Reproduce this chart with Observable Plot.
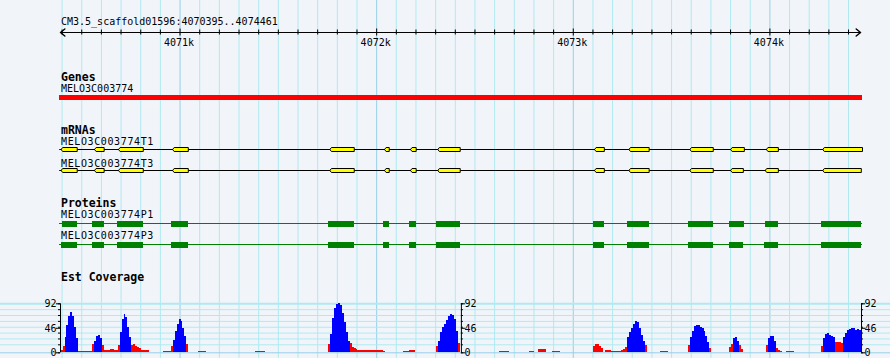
<!DOCTYPE html>
<html><head><meta charset="utf-8">
<script src="https://cdn.jsdelivr.net/npm/d3@7"></script>
<script src="https://cdn.jsdelivr.net/npm/@observablehq/plot@0.6"></script>
<style>
html,body{margin:0;padding:0;background:#f1f5fa;}
#chart svg{display:block;}
</style></head><body><div id="chart"></div>
<script>
// ---------- data ----------
const refName = "CM3.5_scaffold01596";
const regionStart = 4070395;
const regionEnd = 4074461;
const viewDomain = [4070392, 4074471];
const gridStep = 100;
const rulerLabelTicks = [4071000, 4072000, 4073000, 4074000];

const trackTitles = ["Genes", "mRNAs", "Proteins", "Est Coverage"];
const geneName = "MELO3C003774";
const geneSpan = [4070387, 4074471];

const mrnaNames = ["MELO3C003774T1", "MELO3C003774T3"];
const mrnaSpans = [[4070388, 4074471], [4070388, 4074466]];
const exonsT1 = [[4070395,4070477],[4070565,4070614],[4070687,4070813],[4070962,4071042],[4071762,4071886],[4072040,4072064],[4072172,4072201],[4072311,4072425],[4073108,4073158],[4073283,4073386],[4073593,4073712],[4073800,4073870],[4073982,4074043],[4074269,4074471]];
const exonsT3 = [[4070395,4070477],[4070565,4070614],[4070687,4070813],[4070962,4071042],[4071762,4071886],[4072040,4072064],[4072172,4072201],[4072311,4072425],[4073108,4073158],[4073283,4073386],[4073593,4073712],[4073800,4073865],[4073976,4074043],[4074269,4074465]];

const protNames = ["MELO3C003774P1", "MELO3C003774P3"];
const protSpans = [[4070387, 4074471], [4070387, 4074471]];
const cdsP1 = [[4070404,4070478],[4070555,4070616],[4070682,4070814],[4070956,4071043],[4071755,4071887],[4072035,4072065],[4072167,4072202],[4072304,4072426],[4073102,4073158],[4073275,4073387],[4073586,4073713],[4073794,4073870],[4073977,4074043],[4074262,4074465]];
const cdsP3 = [[4070395,4070478],[4070555,4070616],[4070682,4070814],[4070956,4071043],[4071755,4071887],[4072035,4072065],[4072167,4072202],[4072304,4072426],[4073102,4073158],[4073275,4073387],[4073586,4073713],[4073794,4073865],[4073972,4074043],[4074262,4074465]];

// coverage, 10 bp bins: [run start bp, values...]
const covBin = 10;
const covMax = 92;
const covGridTicks = [92, 81, 70, 59, 48, 37, 26, 15];
const covLabelTicks = [0, 46, 92];
const covAxisPositions = [4070392, 4072431, 4074466];
const covAxisSides = ["left", "right", "right"];
const redRuns = [
  [4070395, [4, 12]],
  [4070485, [3, 3, 3, 3, 3, 3, 3, 15]],
  [4070605, [14, 5, 5, 5, 7, 7, 5, 5, 14]],
  [4070755, [14, 15, 12, 10, 8, 4, 4, 4, 4]],
  [4070915, [2, 2, 2, 2, 12]],
  [4071035, [16]],
  [4071095, [2, 2, 2, 2]],
  [4071385, [2, 2, 2, 2, 2]],
  [4071755, [15]],
  [4071865, [17, 10, 8, 7, 5, 5, 5, 5, 5, 5, 4, 4, 4, 4, 4, 4, 4, 2]],
  [4072135, [2, 2, 2, 4, 4, 4]],
  [4072305, [12]],
  [4072415, [17]],
  [4072625, [2, 2, 2, 2, 2]],
  [4072775, [2, 2, 2]],
  [4072825, [6, 6, 6, 6]],
  [4072895, [2, 2, 2, 2]],
  [4073105, [12, 15, 15, 12, 8]],
  [4073165, [4, 4, 4, 2, 2, 2, 2, 2, 4, 6, 10]],
  [4073365, [14]],
  [4073445, [2, 2, 2, 2]],
  [4073585, [14]],
  [4073695, [8]],
  [4073795, [10, 15]],
  [4073845, [14, 6]],
  [4073985, [14]],
  [4074035, [8, 5, 3]],
  [4074085, [2, 2, 2, 2]],
  [4074265, [12]],
  [4074335, [19, 20, 19, 18]]
];
const blueRuns = [
  [4070415, [28, 52, 68, 76, 68, 48, 27]],
  [4070565, [22, 30, 32, 26]],
  [4070695, [38, 62, 71, 66, 48, 28]],
  [4070965, [24, 40, 54, 62, 58, 46, 30]],
  [4071765, [35, 65, 83, 90, 92, 88, 74, 56, 38, 22]],
  [4072315, [22, 38, 48, 54, 60, 68, 72, 70, 62, 40]],
  [4073275, [28, 38, 46, 53, 58, 56, 46, 32, 22]],
  [4073595, [28, 40, 50, 51, 51, 48, 45, 40, 30, 20]],
  [4073815, [26, 28, 22]],
  [4073995, [26, 31, 30, 22]],
  [4074275, [26, 34, 36, 33, 30, 28]],
  [4074375, [28, 36, 41, 44, 46, 45, 42, 43, 42]]
];

// ---------- layout & style ----------
const W = 890, H1 = 296, H2 = 62;
const Y = {
  title: 24.5, ruler: 32, tickMinor: [29.5, 34.5], tickMajor: [28.5, 35.5], arrow: [28.5, 35.5], tickLabel: 45.7,
  heads: [80, 133, 206, 280],
  geneLabel: 91.7, geneBar: [95, 100],
  mrnaLabels: [144.7, 166], mrnaLines: [149, 170], exonHalf: 2,
  protLabels: [217.3, 238.7], protLines: [223, 244], cdsBoxes: [[220.7, 226.7], [242.2, 248.2]]
};
const arrowLen = 22; // bp
const tipLen = 8;    // bp
const mono = "'DejaVu Sans Mono', 'Liberation Mono', monospace";
const C = {minor: "#aeeaf0", major: "#97cfe6", zero: "#97cfe6", red: "#ff0000", blue: "#0000ff", yellow: "#ffff00", green: "#008000"};

const gridAll = d3.range(Math.ceil(viewDomain[0] / gridStep) * gridStep, viewDomain[1], gridStep);
const gridMajor = gridAll.filter(d => d % 1000 === 0);
const gridMinor = gridAll.filter(d => d % 1000 !== 0);

function expand(runs) {
  const out = [];
  for (const [start, vals] of runs) vals.forEach((v, i) => out.push({x1: start + i * covBin, x2: start + (i + 1) * covBin, v}));
  return out;
}
function exonPolys(exons, yc, h, key) {
  return exons.flatMap(([s, e], i) => {
    const t = Math.min(tipLen, (e - s) / 2);
    return [[s, yc], [s + t, yc - h], [e, yc - h], [e, yc + h], [s + t, yc + h], [s, yc]]
      .map(([x, y]) => ({x, y, z: key + "-" + i}));
  });
}
function labelMark(text, y, bold) {
  return Plot.text([text], {frameAnchor: "left", y: () => y, text: d => d, textAnchor: "start", lineAnchor: "bottom", dx: 0.5,
    fontWeight: bold ? "bold" : "normal", fontSize: bold ? 11.5 : 10, fill: "black"});
}
const gridMarks = [
  Plot.ruleX(gridMinor, {stroke: C.minor}),
  Plot.ruleX(gridMajor, {stroke: C.major})
];

// ---------- top panel ----------
const topPanel = Plot.plot({
  width: W, height: H1,
  marginLeft: 60, marginRight: W - 862, marginTop: 0, marginBottom: 0,
  x: {domain: viewDomain, axis: null},
  y: {domain: [0, H1], range: [0, H1], axis: null},
  style: {background: "transparent", fontFamily: mono, fontSize: "10px", overflow: "visible"},
  marks: [
    ...gridMarks,
    Plot.text([`${refName}:${regionStart}..${regionEnd}`], {frameAnchor: "left", y: () => Y.title, text: d => d, textAnchor: "start", lineAnchor: "bottom", dx: 0.5, fill: "black"}),
    Plot.ruleY([Y.ruler], {x1: viewDomain[0], x2: viewDomain[1] - 10, stroke: "black"}),
    Plot.line([[viewDomain[0] + arrowLen, Y.arrow[0]], [viewDomain[0], Y.ruler], [viewDomain[0] + arrowLen, Y.arrow[1]]], {x: d => d[0], y: d => d[1], stroke: "black"}),
    Plot.line([[viewDomain[1] - 10 - arrowLen, Y.arrow[0]], [viewDomain[1] - 10, Y.ruler], [viewDomain[1] - 10 - arrowLen, Y.arrow[1]]], {x: d => d[0], y: d => d[1], stroke: "black"}),
    Plot.ruleX(gridMinor, {y1: Y.tickMinor[0], y2: Y.tickMinor[1], stroke: "black"}),
    Plot.ruleX(gridMajor, {y1: Y.tickMajor[0], y2: Y.tickMajor[1], stroke: "black"}),
    Plot.text(rulerLabelTicks, {x: d => d, y: () => Y.tickLabel, text: d => `${d / 1000}k`, lineAnchor: "bottom", dx: -1, fill: "black"}),
    labelMark(trackTitles[0], Y.heads[0], true),
    labelMark(geneName, Y.geneLabel, false),
    Plot.rect([geneSpan], {x1: d => d[0], x2: d => d[1], y1: () => Y.geneBar[0], y2: () => Y.geneBar[1], fill: C.red}),
    labelMark(trackTitles[1], Y.heads[1], true),
    ...mrnaNames.map((n, i) => labelMark(n, Y.mrnaLabels[i], false)),
    ...mrnaSpans.map((s, i) => Plot.ruleY([Y.mrnaLines[i]], {x1: s[0], x2: s[1], stroke: "black"})),
    ...[exonsT1, exonsT3].map((ex, i) => Plot.line(exonPolys(ex, Y.mrnaLines[i], Y.exonHalf, "t" + i),
      {x: "x", y: "y", z: "z", fill: C.yellow, stroke: "black", strokeWidth: 1, strokeLinejoin: "miter"})),
    labelMark(trackTitles[2], Y.heads[2], true),
    ...protNames.map((n, i) => labelMark(n, Y.protLabels[i], false)),
    ...protSpans.map((s, i) => Plot.ruleY([Y.protLines[i]], {x1: s[0], x2: s[1], stroke: C.green})),
    ...[cdsP1, cdsP3].map((cds, i) => Plot.rect(cds, {x1: d => d[0], x2: d => d[1], y1: () => Y.cdsBoxes[i][0], y2: () => Y.cdsBoxes[i][1], fill: C.green, shapeRendering: "crispEdges"})),
    labelMark(trackTitles[3], Y.heads[3], true)
  ]
});
// transcript / protein labels are drawn slightly wider in the reference
d3.select(topPanel).selectAll("text")
  .filter(function () { return mrnaNames.includes(this.textContent) || protNames.includes(this.textContent); })
  .attr("letter-spacing", "0.62px");

// ---------- coverage panel ----------
const axisMarks = covAxisPositions.flatMap((ax, i) => {
  const left = covAxisSides[i] === "left";
  return [
    Plot.ruleX([ax], {y1: 0, y2: covMax, stroke: "black"}),
    Plot.ruleY(covGridTicks.concat([0]), {y: d => d, x1: ax, x2: ax, insetLeft: left ? -2 : 0, insetRight: left ? 0 : -2, stroke: "black"}),
    Plot.ruleY(covLabelTicks, {y: d => d, x1: ax, x2: ax, insetLeft: left ? -4 : 0, insetRight: left ? 0 : -4, stroke: "black"}),
    Plot.text(covLabelTicks, {x: () => ax, y: d => d, text: d => String(d), textAnchor: left ? "end" : "start", dx: left ? -4 : 3, lineAnchor: "middle", fill: "black"})
  ];
});
const covPanel = Plot.plot({
  width: W, height: H2,
  marginLeft: 60, marginRight: W - 862, marginTop: 0, marginBottom: 0,
  x: {domain: viewDomain, axis: null},
  y: {domain: [0, covMax], range: [56.3, 7.3], axis: null},
  style: {background: "transparent", fontFamily: mono, fontSize: "10px", overflow: "visible"},
  marks: [
    ...gridMarks,
    Plot.ruleY(covGridTicks.slice(1), {y: d => d, stroke: C.minor, insetLeft: -60, insetRight: -28}),
    Plot.ruleY([covMax], {stroke: C.minor, strokeWidth: 2, insetLeft: -60, insetRight: -28}),
    Plot.rectY(expand(redRuns), {x1: "x1", x2: "x2", y: "v", fill: C.red, shapeRendering: "crispEdges"}),
    Plot.rectY(expand(blueRuns), {x1: "x1", x2: "x2", y: "v", fill: C.blue, shapeRendering: "crispEdges"}),
    Plot.ruleY([0], {stroke: C.zero, insetLeft: -60, insetRight: -28}),
    ...axisMarks
  ]
});

const chart = document.getElementById("chart");
chart.appendChild(topPanel);
chart.appendChild(covPanel);
</script>
</body></html>
